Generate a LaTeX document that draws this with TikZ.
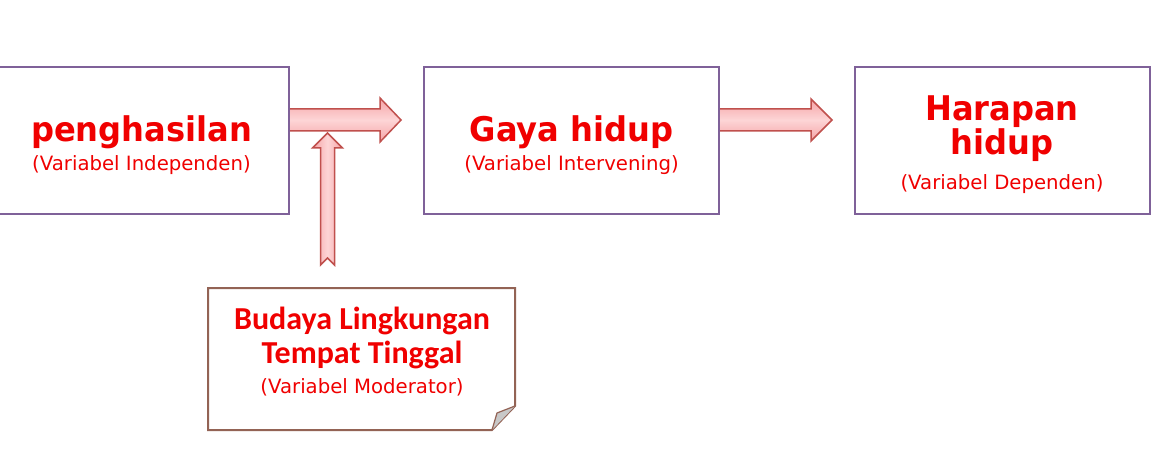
\documentclass[tikz,border=0pt]{standalone}
\usepackage{fontspec}
\setmainfont{DejaVu Sans}
\newfontfamily\titlefont[FakeStretch=0.945]{DejaVu Sans}
\newfontfamily\carl{Carlito}
\definecolor{boxline}{HTML}{7F6199}
\definecolor{txtred}{HTML}{F00000}
\definecolor{arrline}{HTML}{C0504D}
\definecolor{arrlight}{HTML}{FDD5D6}
\definecolor{arrdark}{HTML}{F5A3A6}
\definecolor{noteline}{HTML}{936355}
\definecolor{foldgrey}{HTML}{C8C8C8}
\tikzset{
  varbox/.style={draw=boxline, line width=2pt, fill=white, rectangle, minimum width=295pt, minimum height=147pt, inner sep=0pt},
  blockarrow/.style={draw=arrline, line width=1.5pt, line join=miter},
  title/.style={text=txtred, font=\titlefont\fontsize{34}{40}\selectfont\bfseries, anchor=base, inner sep=0pt},
  sub/.style={text=txtred, font=\fontsize{19.7}{24}\selectfont, anchor=base, inner sep=0pt},
  notetitle/.style={text=txtred, font=\carl\fontsize{32}{38}\selectfont\bfseries, anchor=base, inner sep=0pt}
}
\begin{document}
\begin{tikzpicture}[x=1pt,y=-1pt]
\useasboundingbox (0,0) rectangle (1164,462);
\clip (0,0) rectangle (1164,462);
\fill[white] (0,0) rectangle (1164,462);

% block arrows (drawn first, boxes on top)
\path[blockarrow, top color=arrdark, bottom color=arrdark, middle color=arrlight]
  (289,109) -- (380,109) -- (380,98) -- (401,120) -- (380,142) -- (380,131) -- (289,131) -- cycle;
\path[blockarrow, top color=arrdark, bottom color=arrdark, middle color=arrlight]
  (719,109) -- (811,109) -- (811,99) -- (832,120) -- (811,141) -- (811,131) -- (719,131) -- cycle;
\path[blockarrow, left color=arrdark, right color=arrdark, middle color=arrlight]
  (327.5,133) -- (342.5,148) -- (334.5,148) -- (334.5,265) -- (327.5,258) -- (320.5,265) -- (320.5,148) -- (312.5,148) -- cycle;

% boxes
\node[varbox] (ind) at (141.5,140.5) {};
\node[varbox] (int) at (571.5,140.5) {};
\node[varbox] (dep) at (1002.5,140.5) {};

\node[title] (indT) at (141.5,142) {penghasilan};
\node[sub]   (indS) at (141.5,171) {(Variabel Independen)};
\node[title] (intT) at (571.5,142) {Gaya hidup};
\node[sub]   (intS) at (571.5,171) {(Variabel Intervening)};
\node[title] (depT1) at (1002,121) {Harapan};
\node[title] (depT2) at (1002,155) {hidup};
\node[sub]   (depS) at (1002,190) {(Variabel Dependen)};

% note with folded corner
\draw[noteline, line width=2pt, fill=white, line join=miter]
  (208,288) -- (515,288) -- (515,406) -- (492,430) -- (208,430) -- cycle;
\draw[noteline, line width=1.2pt, fill=foldgrey, line join=round]
  (515,406) -- (497,413) -- (492,430);
\node[notetitle] (modT1) at (362,329) {Budaya Lingkungan};
\node[notetitle] (modT2) at (362,363) {Tempat Tinggal};
\node[sub]       (modS) at (362,393) {(Variabel Moderator)};
\end{tikzpicture}
\end{document}
